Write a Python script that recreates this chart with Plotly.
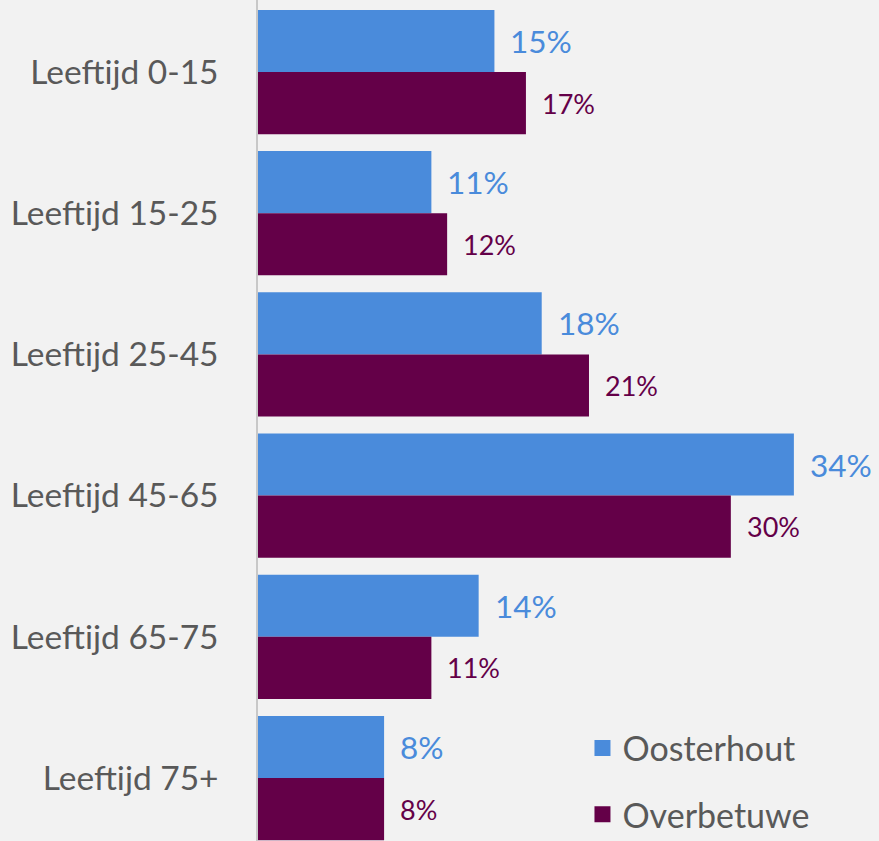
import plotly.graph_objects as go

categories = ["Leeftijd 0-15", "Leeftijd 15-25", "Leeftijd 25-45", "Leeftijd 45-65", "Leeftijd 65-75", "Leeftijd 75+"]
oosterhout = [15, 11, 18, 34, 14, 8]
overbetuwe = [17, 12, 21, 30, 11, 8]
series_names = ["Oosterhout", "Overbetuwe"]

BLUE = "#4a8bdb"
PURPLE = "#640048"
GREY = "#595959"
FONT = "Lato, 'Open Sans', sans-serif"

fig = go.Figure()
fig.add_trace(go.Bar(y=categories, x=oosterhout, orientation="h", name=series_names[0],
                     marker=dict(color=BLUE, line=dict(width=0)), showlegend=False))
fig.add_trace(go.Bar(y=categories, x=overbetuwe, orientation="h", name=series_names[1],
                     marker=dict(color=PURPLE, line=dict(width=0)), showlegend=False))
# legend entries with larger square markers
for nm, col in zip(series_names, [BLUE, PURPLE]):
    fig.add_trace(go.Scatter(x=[None], y=[None], mode="markers", name=nm, legendgroup=nm,
                             marker=dict(symbol="square", size=21, color=col)))

annotations = []
for cat, v in zip(categories, oosterhout):
    annotations.append(dict(x=v, y=cat, text=f"{v}%", showarrow=False, xanchor="left",
                            xshift=14, yshift=31, font=dict(size=31.5, color=BLUE, family=FONT)))
for cat, v in zip(categories, overbetuwe):
    annotations.append(dict(x=v, y=cat, text=f"{v}%", showarrow=False, xanchor="left",
                            xshift=14, yshift=-31, font=dict(size=27, color=PURPLE, family=FONT)))

fig.update_layout(
    width=879, height=841,
    margin=dict(l=258, r=0, t=0, b=0, autoexpand=False),
    paper_bgcolor="#f2f2f2", plot_bgcolor="#f2f2f2",
    barmode="group", bargap=0.12, bargroupgap=0,
    font=dict(family=FONT, color=GREY),
    annotations=annotations,
    xaxis=dict(range=[0, 39.4], visible=False, showgrid=False, zeroline=False),
    yaxis=dict(range=[5.446, -0.51], showgrid=False, zeroline=False, automargin=False,
               showline=True, linecolor="#c8c8c8", linewidth=1.5,
               ticks="", tickfont=dict(size=33.5, color=GREY, family=FONT),
               ticklabelstandoff=31),
    legend=dict(x=0.5225, y=0.1445, xanchor="left", yanchor="top",
                font=dict(size=34, color=GREY, family=FONT),
                bgcolor="rgba(0,0,0,0)", itemwidth=30, tracegroupgap=19),
)

fig.write_html("out.html", config={"displayModeBar": False},
               post_script="document.body.style.margin='0';")
